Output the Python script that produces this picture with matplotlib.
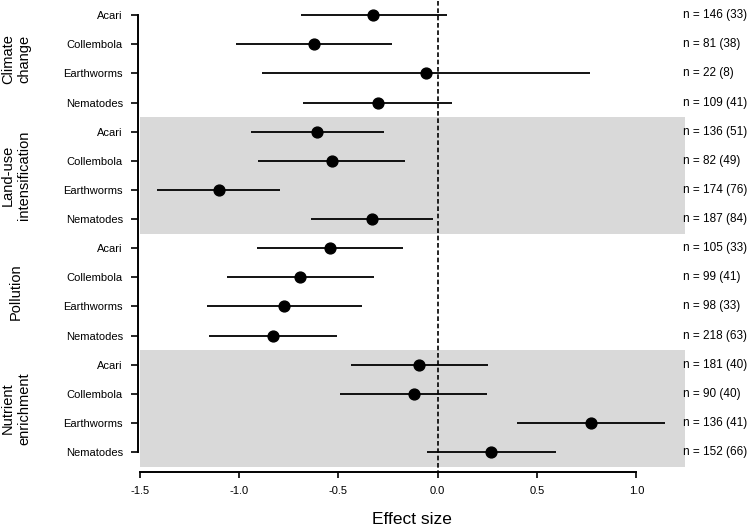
import matplotlib
matplotlib.use("Agg")
import matplotlib.pyplot as plt
import matplotlib.transforms as mtransforms

plt.rcParams['font.family'] = ['Liberation Sans', 'DejaVu Sans']

# groups and taxa, top to bottom
groups = ['Climate\nchange', 'Land-use\nintensification', 'Pollution', 'Nutrient\nenrichment']
taxa = ['Acari', 'Collembola', 'Earthworms', 'Nematodes']

# effect sizes with confidence limits (row order: group by group, taxa inside)
effect = [-0.324, -0.622, -0.061, -0.302,
          -0.606, -0.532, -1.101, -0.329,
          -0.540, -0.691, -0.772, -0.831,
          -0.092, -0.121, 0.772, 0.270]
lower = [-0.687, -1.014, -0.885, -0.676,
         -0.939, -0.905, -1.410, -0.635,
         -0.908, -1.059, -1.162, -1.151,
         -0.435, -0.489, 0.397, -0.056]
upper = [0.045, -0.228, 0.766, 0.074,
         -0.268, -0.162, -0.791, -0.022,
         -0.173, -0.322, -0.381, -0.505,
         0.252, 0.248, 1.144, 0.594]
n_obs = [146, 81, 22, 109, 136, 82, 174, 187, 105, 99, 98, 218, 181, 90, 136, 152]
n_studies = [33, 38, 8, 41, 51, 49, 76, 84, 33, 41, 33, 63, 40, 40, 41, 66]

fig = plt.figure(figsize=(7.49, 5.25), dpi=100)
ax = fig.add_axes([0.1864, 0.1110, 0.7282, 0.8879])

rows = list(range(len(effect)))
ax.set_xlim(-1.5, 1.245)
ax.set_ylim(15.5, -0.5)

# grey bands behind the 2nd and 4th group
for g in range(len(groups)):
    if g % 2 == 1:
        ax.axhspan(4 * g - 0.5, 4 * g + 3.5, color='#d9d9d9', lw=0, zorder=0)

# reference line at zero
ax.plot([0, 0], [-0.5, 15.68], color='black', lw=1.2, ls=(0, (2.8, 1.6)),
        clip_on=False, zorder=1)

# confidence intervals and means
ax.hlines(rows, lower, upper, color='black', lw=1.3, zorder=2)
ax.plot(effect, rows, 'o', color='black', markersize=7.8, zorder=3)

# sample sizes at the right edge
for r in rows:
    ax.text(0.997, r, f"n = {n_obs[r]} ({n_studies[r]})", transform=ax.get_yaxis_transform(),
            ha='left', va='center', fontsize=8.5, clip_on=False)

# axes in R style
for s in ['top', 'right']:
    ax.spines[s].set_visible(False)
ax.spines['left'].set_position(('outward', 1))
ax.spines['bottom'].set_position(('outward', 3.8))
ax.spines['left'].set_bounds(0, 15)
ax.spines['bottom'].set_bounds(-1.5, 1.0)
ax.spines['left'].set_linewidth(1.4)
ax.spines['bottom'].set_linewidth(1.4)

ax.set_yticks(rows)
ax.set_yticklabels(taxa * len(groups))
ax.set_xticks([-1.5, -1.0, -0.5, 0.0, 0.5, 1.0])
ax.set_xticklabels(['-1.5', '-1.0', '-0.5', '0.0', '0.5', '1.0'])
ax.tick_params(axis='y', length=5, width=1.2, pad=6, labelsize=8)
ax.tick_params(axis='x', length=4.3, width=1.2, pad=6, labelsize=8)

fig.text(412 / 749, 1 - 519 / 525, 'Effect size', ha='center', va='center', fontsize=12.5)

# group names on the far left
trans = mtransforms.blended_transform_factory(fig.transFigure, ax.transData)
for g, name in enumerate(groups):
    ax.text(16 / 749, 4 * g + 1.5, name, transform=trans, rotation=90,
            ha='center', va='center', fontsize=10.5, multialignment='center',
            clip_on=False)

fig.savefig('out.png', dpi=100)
